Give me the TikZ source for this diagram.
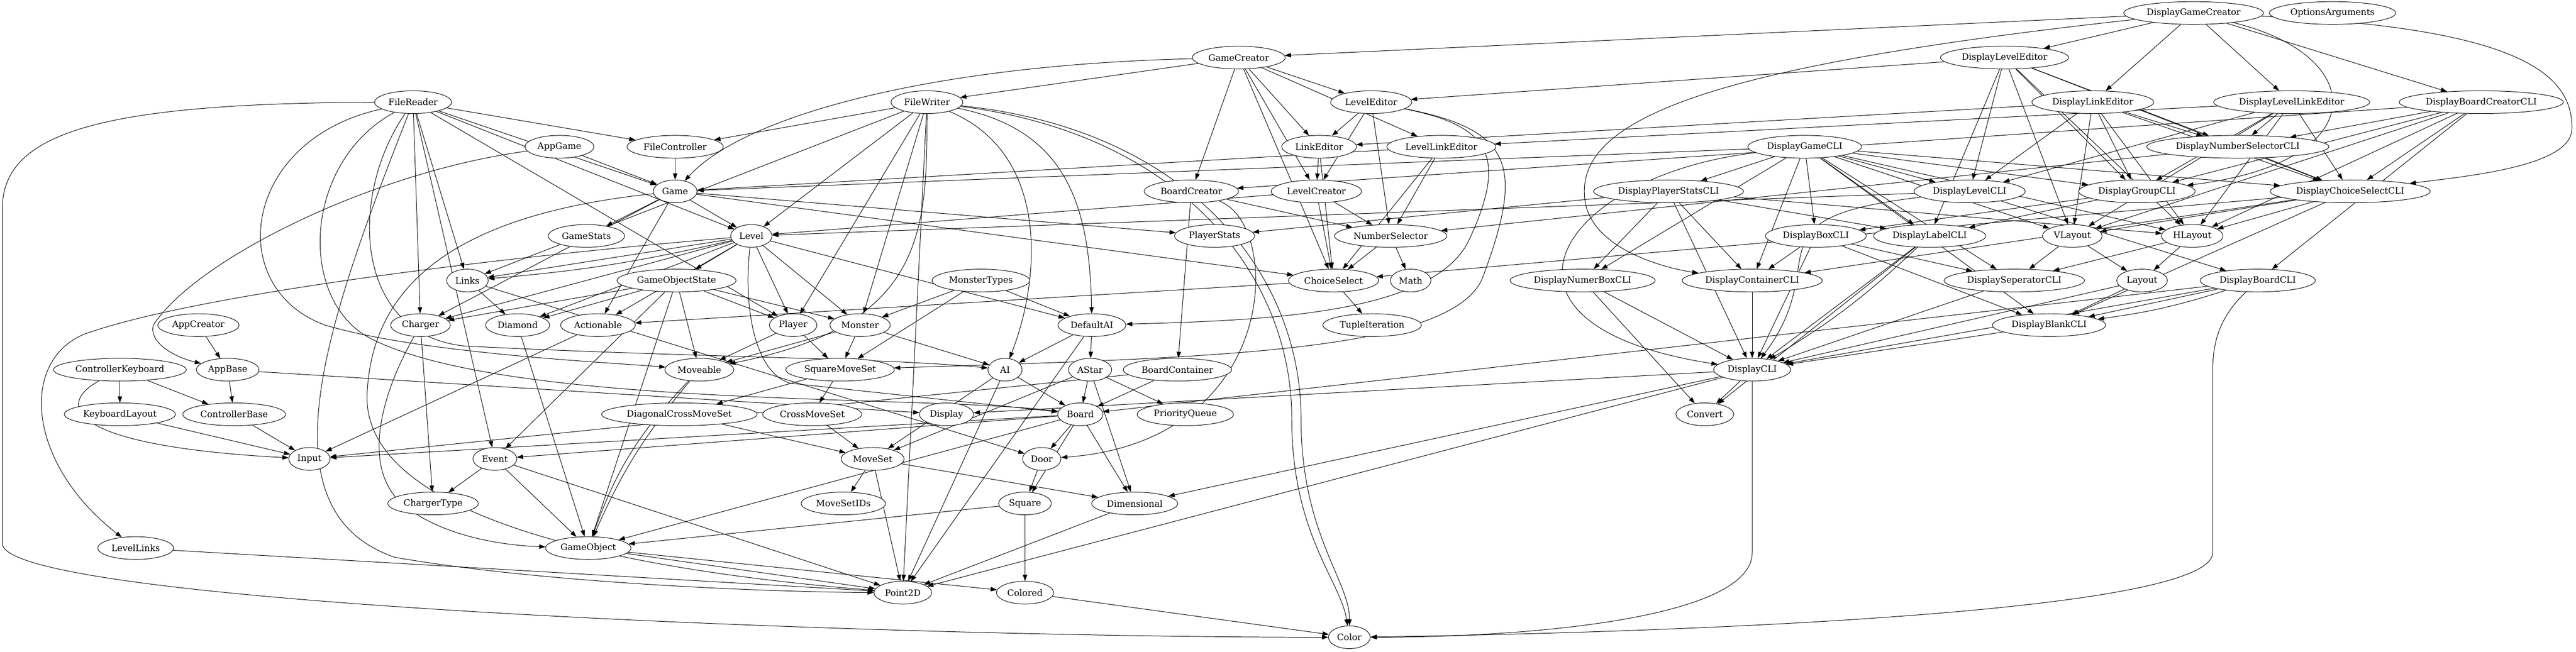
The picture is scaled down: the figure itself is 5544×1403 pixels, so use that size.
\documentclass[tikz,border=0pt]{standalone}
\usepackage{fontspec}
\setmainfont{DejaVu Serif}
\usetikzlibrary{arrows.meta,shapes.geometric,backgrounds}

\begin{document}
\begin{tikzpicture}[x=0.735pt, y=-0.735pt,
    clase/.style={draw, fill=white, ellipse, line width=0.8pt, inner xsep=4pt, inner ysep=0pt,
        minimum height=36pt, minimum width=54pt, font=\fontsize{14}{16}\selectfont},
    dep/.style={line width=0.8pt, -{Triangle[length=10pt,width=7pt]}}]
    \useasboundingbox (0,0) rectangle (5544,1403);

    % rango 0
    \node[clase] (DisplayGameCreator) at (4721,28) {DisplayGameCreator};
    \node[clase] (OptionsArguments) at (5020,28) {OptionsArguments};
    % rango 1
    \node[clase] (GameCreator) at (2666,124) {GameCreator};
    \node[clase] (DisplayLevelEditor) at (4314,124) {DisplayLevelEditor};
    % rango 2
    \node[clase] (FileReader) at (889,220) {FileReader};
    \node[clase] (FileWriter) at (1995,220) {FileWriter};
    \node[clase] (LevelEditor) at (2951,220) {LevelEditor};
    \node[clase] (DisplayLinkEditor) at (4504,220) {DisplayLinkEditor};
    \node[clase] (DisplayLevelLinkEditor) at (4932,220) {DisplayLevelLinkEditor};
    \node[clase] (DisplayBoardCreatorCLI) at (5340,220) {DisplayBoardCreatorCLI};
    % rango 3
    \node[clase] (AppGame) at (1204,316) {AppGame};
    \node[clase] (FileController) at (1453,316) {FileController};
    \node[clase] (LinkEditor) at (2839,316) {LinkEditor};
    \node[clase] (LevelLinkEditor) at (3102,316) {LevelLinkEditor};
    \node[clase] (DisplayGameCLI) at (3884,316) {DisplayGameCLI};
    \node[clase] (DisplayNumberSelectorCLI) at (4816,316) {DisplayNumberSelectorCLI};
    % rango 4
    \node[clase] (Game) at (1453,412) {Game};
    \node[clase] (BoardCreator) at (2564,412) {BoardCreator};
    \node[clase] (LevelCreator) at (2833,412) {LevelCreator};
    \node[clase] (DisplayPlayerStatsCLI) at (3591,412) {DisplayPlayerStatsCLI};
    \node[clase] (DisplayLevelCLI) at (4239,412) {DisplayLevelCLI};
    \node[clase] (DisplayGroupCLI) at (4599,412) {DisplayGroupCLI};
    \node[clase] (DisplayChoiceSelectCLI) at (5058,412) {DisplayChoiceSelectCLI};
    % rango 5
    \node[clase] (GameStats) at (1262,508) {GameStats};
    \node[clase] (Level) at (1617,508) {Level};
    \node[clase] (PlayerStats) at (2614,508) {PlayerStats};
    \node[clase] (NumberSelector) at (2993,508) {NumberSelector};
    \node[clase] (DisplayBoxCLI) at (3908,508) {DisplayBoxCLI};
    \node[clase] (DisplayLabelCLI) at (4153,508) {DisplayLabelCLI};
    \node[clase] (VLayout) at (4460,508) {VLayout};
    \node[clase] (HLayout) at (4718,508) {HLayout};
    % rango 6
    \node[clase] (Links) at (1006,604) {Links};
    \node[clase] (GameObjectState) at (1456,604) {GameObjectState};
    \node[clase] (MonsterTypes) at (2111,604) {MonsterTypes};
    \node[clase] (ChoiceSelect) at (2870,604) {ChoiceSelect};
    \node[clase] (Math) at (3036,604) {Math};
    \node[clase] (DisplayNumerBoxCLI) at (3406,604) {DisplayNumerBoxCLI};
    \node[clase] (DisplayContainerCLI) at (3771,604) {DisplayContainerCLI};
    \node[clase] (DisplaySeperatorCLI) at (4335,604) {DisplaySeperatorCLI};
    \node[clase] (Layout) at (4610,604) {Layout};
    \node[clase] (DisplayBoardCLI) at (4859,604) {DisplayBoardCLI};
    % rango 7
    \node[clase] (AppCreator) at (427,700) {AppCreator};
    \node[clase] (Charger) at (905,700) {Charger};
    \node[clase] (Diamond) at (1114,700) {Diamond};
    \node[clase] (Actionable) at (1287,700) {Actionable};
    \node[clase] (Player) at (1707,700) {Player};
    \node[clase] (Monster) at (1851,700) {Monster};
    \node[clase] (DefaultAI) at (2350,700) {DefaultAI};
    \node[clase] (TupleIteration) at (2953,700) {TupleIteration};
    \node[clase] (DisplayBlankCLI) at (4410,700) {DisplayBlankCLI};
    % rango 8
    \node[clase] (ControllerKeyboard) at (258,796) {ControllerKeyboard};
    \node[clase] (AppBase) at (490,796) {AppBase};
    \node[clase] (Moveable) at (1505,796) {Moveable};
    \node[clase] (SquareMoveSet) at (1808,796) {SquareMoveSet};
    \node[clase] (AI) at (2163,796) {AI};
    \node[clase] (AStar) at (2346,796) {AStar};
    \node[clase] (BoardContainer) at (2534,796) {BoardContainer};
    \node[clase] (DisplayCLI) at (3771,796) {DisplayCLI};
    % rango 9
    \node[clase] (KeyboardLayout) at (258,892) {KeyboardLayout};
    \node[clase] (ControllerBase) at (504,892) {ControllerBase};
    \node[clase] (DiagonalCrossMoveSet) at (1462,892) {DiagonalCrossMoveSet};
    \node[clase] (CrossMoveSet) at (1748,892) {CrossMoveSet};
    \node[clase] (Display) at (2037,892) {Display};
    \node[clase] (Board) at (2325,892) {Board};
    \node[clase] (PriorityQueue) at (2551,892) {PriorityQueue};
    \node[clase] (Convert) at (3669,892) {Convert};
    % rango 10
    \node[clase] (Input) at (666,988) {Input};
    \node[clase] (Event) at (1065,988) {Event};
    \node[clase] (MoveSet) at (1878,988) {MoveSet};
    \node[clase] (Door) at (2242,988) {Door};
    % rango 11
    \node[clase] (ChargerType) at (932,1084) {ChargerType};
    \node[clase] (MoveSetIDs) at (1815,1084) {MoveSetIDs};
    \node[clase] (Square) at (2206,1084) {Square};
    \node[clase] (Dimensional) at (2442,1084) {Dimensional};
    % rangos 12 a 14
    \node[clase] (LevelLinks) at (292,1180) {LevelLinks};
    \node[clase] (GameObject) at (1266,1180) {GameObject};
    \node[clase] (Point2D) at (1943,1276) {Point2D};
    \node[clase] (Colored) at (2206,1276) {Colored};
    \node[clase] (Color) at (2904,1372) {Color};

    \begin{pgfonlayer}{background}
    % fondo blanco
    \fill[white] (0,0) rectangle (5544,1403);
    % dependencias rectas
    \draw[dep] (DisplayGameCreator) edge (GameCreator) edge (DisplayLevelEditor) edge (DisplayLinkEditor)
        edge (DisplayLevelLinkEditor) edge (DisplayBoardCreatorCLI);
    \draw[dep] (GameCreator) edge (FileWriter) edge (BoardCreator) edge (LevelCreator) edge (LinkEditor)
        edge (LevelEditor) edge (LevelLinkEditor) edge (ChoiceSelect);
    \draw[dep] (DisplayLevelEditor) edge (LevelEditor) edge (DisplayLevelCLI) edge (DisplayGroupCLI)
        edge (DisplayNumberSelectorCLI) edge (DisplayChoiceSelectCLI) edge (VLayout) edge (HLayout)
        edge (DisplayLabelCLI);
    \draw[dep] (FileReader) edge (FileController) edge (Game) edge (Level) edge (Links) edge (Charger)
        edge (Player) edge (Event);
    \draw[dep] (FileWriter) edge (FileController) edge (Level) edge (Links) edge (Player) edge (Monster)
        edge (Point2D);
    \draw[dep] (LevelEditor) edge (LinkEditor) edge (NumberSelector) edge (LevelCreator);
    \draw[dep] (DisplayLinkEditor) edge (LinkEditor) edge (DisplayNumberSelectorCLI) edge (DisplayLevelCLI)
        edge (DisplayGroupCLI) edge (DisplayChoiceSelectCLI) edge (VLayout) edge (HLayout);
    \draw[dep] (DisplayLevelLinkEditor) edge (LevelLinkEditor) edge (DisplayNumberSelectorCLI)
        edge (DisplayLevelCLI) edge (DisplayGroupCLI) edge (DisplayChoiceSelectCLI) edge (VLayout)
        edge (HLayout);
    \draw[dep] (DisplayBoardCreatorCLI) edge (BoardCreator) edge (DisplayNumberSelectorCLI)
        edge (DisplayGroupCLI) edge (DisplayChoiceSelectCLI) edge (VLayout) edge (HLayout)
        edge (DisplayBoardCLI);
    \draw[dep] (AppGame) edge (Game);
    \draw[dep] (FileController) edge (Game);
    \draw[dep] (LinkEditor) edge (LevelCreator) edge (ChoiceSelect);
    \draw[dep] (LevelLinkEditor) edge (NumberSelector) edge (ChoiceSelect) edge (Game);
    \draw[dep] (DisplayGameCLI) edge (Game) edge (DisplayPlayerStatsCLI) edge (DisplayLevelCLI)
        edge (DisplayGroupCLI) edge (DisplayChoiceSelectCLI) edge (DisplayBoxCLI) edge (DisplayLabelCLI)
        edge (VLayout) edge (HLayout) edge (DisplayNumerBoxCLI) edge (DisplayContainerCLI)
        edge (DisplaySeperatorCLI) edge (DisplayBlankCLI);
    \draw[dep] (DisplayNumberSelectorCLI) edge (NumberSelector) edge (DisplayChoiceSelectCLI);
    \draw[dep] (Game) edge (Level) edge (GameStats) edge (PlayerStats) edge (ChoiceSelect) edge (Charger)
        edge (Actionable);
    \draw[dep] (BoardCreator) edge (BoardContainer) edge (NumberSelector);
    \draw[dep] (LevelCreator) edge (Level) edge (NumberSelector) edge (ChoiceSelect);
    \draw[dep] (DisplayPlayerStatsCLI) edge (PlayerStats) edge (DisplayNumerBoxCLI)
        edge (DisplayContainerCLI) edge (DisplayCLI) edge (DisplayLabelCLI) edge (HLayout);
    \draw[dep] (DisplayLevelCLI) edge (Level) edge (DisplayBoardCLI);
    \draw[dep] (DisplayGroupCLI) edge (DisplayLabelCLI) edge (DisplayBoxCLI);
    \draw[dep] (DisplayChoiceSelectCLI) edge (ChoiceSelect) edge (VLayout) edge (HLayout)
        edge (DisplayBlankCLI) edge (DisplayContainerCLI);
    \draw[dep] (Level) edge (Links) edge[bend left=4] (Links) edge (GameObjectState) edge (Player)
        edge (Monster) edge (DefaultAI) edge (Charger) edge (Diamond) edge (Actionable);
    \draw[dep] (NumberSelector) edge (ChoiceSelect) edge (Math);
    \draw[dep] (DisplayBoxCLI) edge (DisplayContainerCLI) edge (DisplayCLI) edge (DisplaySeperatorCLI)
        edge (DisplayBlankCLI);
    \draw[dep] (DisplayLabelCLI) edge (DisplayCLI) edge[bend left=6] (DisplayCLI) edge (Convert);
    \draw[dep] (VLayout) edge (Layout) edge (DisplaySeperatorCLI);
    \draw[dep] (HLayout) edge (Layout) edge (DisplaySeperatorCLI);
    \draw[dep] (Links) edge (Diamond) edge (Door);
    \draw[dep] (GameObjectState) edge (Charger) edge (Diamond) edge (Player) edge (Monster) edge (Moveable)
        edge (GameObject) edge (Event);
    \draw[dep] (MonsterTypes) edge (Monster) edge (DefaultAI) edge (SquareMoveSet);
    \draw[dep] (ChoiceSelect) edge (TupleIteration) edge (Actionable);
    \draw[dep] (DisplayNumerBoxCLI) edge (DisplayCLI) edge (Convert);
    \draw[dep] (DisplayContainerCLI) edge (DisplayCLI);
    \draw[dep] (DisplaySeperatorCLI) edge (DisplayCLI);
    \draw[dep] (Layout) edge (DisplayBlankCLI) edge (DisplayCLI);
    \draw[dep] (DisplayBoardCLI) edge (DisplayBlankCLI) edge[bend left=5] (DisplayBlankCLI)
        edge (DisplayCLI) edge (Board);
    \draw[dep] (AppCreator) edge (AppBase);
    \draw[dep] (Charger) edge (ChargerType);
    \draw[dep] (Diamond) edge (GameObject);
    \draw[dep] (Actionable) edge (Input);
    \draw[dep] (Player) edge (Moveable) edge (SquareMoveSet);
    \draw[dep] (Monster) edge (Moveable) edge (SquareMoveSet) edge (AI);
    \draw[dep] (DefaultAI) edge (AI) edge (AStar) edge (Point2D);
    \draw[dep] (DisplayBlankCLI) edge (DisplayCLI);
    \draw[dep] (ControllerKeyboard) edge (KeyboardLayout) edge (ControllerBase);
    \draw[dep] (AppBase) edge (ControllerBase) edge (Display);
    \draw[dep] (Moveable) edge[bend right=8] (GameObject) edge[bend right=12] (GameObject);
    \draw[dep] (SquareMoveSet) edge (DiagonalCrossMoveSet) edge (CrossMoveSet);
    \draw[dep] (AI) edge (MoveSet) edge (Board) edge (Point2D);
    \draw[dep] (AStar) edge (Board) edge (PriorityQueue) edge (Dimensional) edge (MoveSet);
    \draw[dep] (BoardContainer) edge (Board) edge (Input);
    \draw[dep] (DisplayCLI) edge (Convert) edge (Display) edge (Point2D) edge (Dimensional);
    \draw[dep] (KeyboardLayout) edge (Input);
    \draw[dep] (ControllerBase) edge (Input);
    \draw[dep] (DiagonalCrossMoveSet) edge (MoveSet);
    \draw[dep] (CrossMoveSet) edge (MoveSet);
    \draw[dep] (Board) edge (Door) edge (Square) edge (Dimensional) edge (GameObject) edge (Input) edge (Event);
    \draw[dep] (Event) edge (ChargerType) edge (GameObject) edge (Point2D);
    \draw[dep] (MoveSet) edge (MoveSetIDs) edge (Point2D) edge (Dimensional);
    \draw[dep] (Door) edge (Square);
    \draw[dep] (Square) edge (Colored) edge (GameObject);
    \draw[dep] (Dimensional) edge (Point2D);
    \draw[dep] (LevelLinks) edge (Point2D);
    \draw[dep] (GameObject) edge (Point2D) edge (Colored);
    \draw[dep] (Colored) edge (Color);

    % dependencias curvas
    \draw[dep] (GameCreator) .. controls (2000,140) and (1600,250) .. (Game);
    \draw[dep] (FileReader) .. controls (200,222) and (5,290) .. (5,450) -- (5,1170)
        .. controls (5,1300) and (1900,1372) .. (Color);
    \draw[dep] (FileReader) .. controls (700,700) and (560,1100) .. (850,1200)
        .. controls (1200,1260) and (1700,1275) .. (Point2D);
    \draw[dep] (FileReader) .. controls (520,300) and (480,620) .. (700,700)
        .. controls (900,760) and (1300,780) .. (Moveable);
    \draw[dep] (FileReader) .. controls (650,350) and (640,650) .. (800,730)
        .. controls (1100,880) and (2000,850) .. (Board);
    \draw[dep] (FileReader) .. controls (750,420) and (760,720) .. (1000,745)
        .. controls (1500,770) and (1900,770) .. (AI);
    \draw[dep] (Game) .. controls (1000,460) and (800,600) .. (790,850)
        .. controls (780,1150) and (1500,1240) .. (Point2D);
    \draw[dep] (Charger) .. controls (820,850) and (780,1000) .. (860,1080)
        .. controls (950,1160) and (1100,1175) .. (GameObject);
    \draw[dep] (ControllerKeyboard) .. controls (120,870) and (140,960) .. (Input);
    \draw[dep] (Level) .. controls (1600,650) and (1620,800) .. (1700,825) -- (Board);
    \draw[dep] (FileWriter) .. controls (1995,500) and (1990,700) .. (Moveable);
    \draw[dep] (FileWriter) .. controls (2260,330) and (2240,600) .. (AI);
    \draw[dep] (FileWriter) .. controls (2300,280) and (2345,450) .. (DefaultAI);
    \draw[dep] (FileWriter) .. controls (2550,290) and (2780,600) .. (2780,900)
        .. controls (2780,1150) and (2885,1250) .. (Color);
    \draw[dep] (FileWriter) .. controls (2570,280) and (2800,600) .. (2800,900)
        .. controls (2800,1150) and (2905,1250) .. (Color);
    \draw[dep] (DisplayCLI) -- (3771,1190) .. controls (3771,1330) and (3300,1372) .. (Color);
    \draw[dep] (DisplayBoardCLI) .. controls (4780,680) and (4762,730) .. (4762,800) -- (4762,1190)
        .. controls (4762,1320) and (3600,1362) .. (Color);
    \draw[dep] (DisplayGameCreator) .. controls (5400,60) and (5540,150) .. (5535,280)
        .. controls (5530,360) and (5300,380) .. (DisplayChoiceSelectCLI);
    \draw[dep] (DisplayGameCreator) .. controls (5100,120) and (5110,350) .. (DisplayGroupCLI);
    \draw[dep] (DisplayGameCreator) .. controls (3700,140) and (3400,250) .. (3410,420)
        .. controls (3415,540) and (3600,580) .. (DisplayContainerCLI);
    \draw[dep] (DisplayGameCLI) .. controls (3350,380) and (3150,700) .. (DisplayCLI);
    \draw[dep] (DisplayLevelCLI) .. controls (3750,470) and (3950,560) .. (DisplayCLI);
    \draw[dep] (LevelEditor) .. controls (3200,270) and (3250,330) .. (3160,520)
        .. controls (3080,680) and (2700,690) .. (DefaultAI);
    \draw[dep] (LevelEditor) .. controls (3260,280) and (3280,360) .. (3190,600)
        .. controls (3120,760) and (2600,770) .. (SquareMoveSet);
    \draw[dep] (BoardCreator) .. controls (2760,480) and (2760,950) .. (Door);
    \draw[dep] (Level) .. controls (1000,560) and (400,640) .. (180,720)
        .. controls (40,780) and (60,1000) .. (LevelLinks);
    \draw[dep] (AppGame) .. controls (800,370) and (420,560) .. (330,700)
        .. controls (320,740) and (380,770) .. (AppBase);
    \end{pgfonlayer}
\end{tikzpicture}
\end{document}
